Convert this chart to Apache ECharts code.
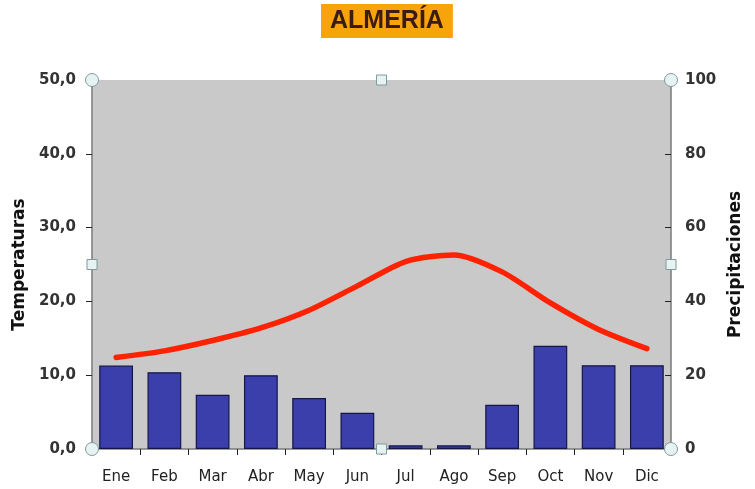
<!DOCTYPE html>
<html><head><meta charset="utf-8">
<script src="https://cdn.jsdelivr.net/npm/echarts@6/dist/echarts.min.js"></script>
<style>html,body{margin:0;padding:0;background:#fff}#c{width:755px;height:489px}</style>
</head><body><div id="c"></div>
<script>
const months = ['Ene','Feb','Mar','Abr','May','Jun','Jul','Ago','Sep','Oct','Nov','Dic'];
const precipitaciones = [22.6, 20.8, 14.7, 20.0, 13.8, 9.8, 1.0, 1.0, 12.0, 28.0, 22.7, 22.7];
const temperaturas = [12.4, 13.3, 14.7, 16.4, 18.8, 22.1, 25.4, 26.3, 24.0, 19.8, 16.2, 13.6];
const tempTicks = [0, 10, 20, 30, 40, 50];
const precTicks = [0, 20, 40, 60, 80, 100];

const G = {left: 92, right: 84, top: 80, bottom: 40};
const W = 755, H = 489;
const x0 = G.left, x1 = W - G.right, y0 = G.top, y1 = H - G.bottom;
const xm = (x0 + x1) / 2, ym = (y0 + y1) / 2;
const hs = {fill: '#e6f3f2', stroke: '#7f9c9a', lineWidth: 1};
const handles = [];
[[x0,y0],[x1,y0],[x0,y1],[x1,y1]].forEach(p => handles.push({type:'circle', shape:{cx:p[0], cy:p[1], r:6.5}, style:hs, z:100}));
[[xm,y0],[x0,ym],[x1,ym],[xm,y1]].forEach(p => handles.push({type:'rect', shape:{x:p[0]-5, y:p[1]-5, width:10, height:10}, style:hs, z:100}));

const LF = 'DejaVu Sans, sans-serif';
const chart = echarts.init(document.getElementById('c'));
chart.setOption({
  animation: false,
  backgroundColor: '#ffffff',
  textStyle: {fontFamily: LF},
  title: {
    text: 'ALMERÍA', left: 321, top: 4, padding: [5, 9, 4, 9],
    backgroundColor: '#f7a30c',
    textStyle: {color: '#3a1c14', fontSize: 25, fontWeight: 'bold', fontFamily: 'Liberation Sans, Arial, sans-serif'}
  },
  grid: {left: G.left, right: G.right, top: G.top, bottom: G.bottom, show: true, backgroundColor: '#c9c9c9', borderWidth: 0, containLabel: false, outerBoundsMode: 'none'},
  xAxis: {
    type: 'category', data: months, boundaryGap: true,
    axisLine: {lineStyle: {color: '#7a7a7a', width: 1.5}},
    axisTick: {show: true, alignWithLabel: false, length: 6, lineStyle: {color: '#222'}},
    axisLabel: {color: '#222', fontSize: 15, margin: 21, fontFamily: LF}
  },
  yAxis: [
    {
      type: 'value', min: tempTicks[0], max: tempTicks[tempTicks.length-1], interval: 10,
      name: 'Temperaturas', nameLocation: 'middle', nameRotate: 90, nameGap: 62,
      nameTextStyle: {color: '#111', fontSize: 17, fontWeight: 'bold', fontFamily: LF},
      axisLine: {show: true, lineStyle: {color: '#7a7a7a', width: 1.5}},
      axisTick: {show: true, length: 6, lineStyle: {color: '#222'}},
      splitLine: {show: false},
      axisLabel: {color: '#333', fontSize: 15, fontWeight: 'bold', margin: 16, fontFamily: LF, formatter: v => v.toFixed(1).replace('.', ',')}
    },
    {
      type: 'value', min: precTicks[0], max: precTicks[precTicks.length-1], interval: 20, position: 'right',
      name: 'Precipitaciones', nameLocation: 'middle', nameRotate: 90, nameGap: 54,
      nameTextStyle: {color: '#111', fontSize: 17, fontWeight: 'bold', fontFamily: LF},
      axisLine: {show: true, lineStyle: {color: '#7a7a7a', width: 1.5}},
      axisTick: {show: true, length: 6, inside: true, lineStyle: {color: '#222'}},
      splitLine: {show: false},
      axisLabel: {color: '#333', fontSize: 15, fontWeight: 'bold', margin: 14, fontFamily: LF}
    }
  ],
  series: [
    {
      type: 'bar', yAxisIndex: 1, data: precipitaciones, barWidth: '70%',
      itemStyle: {color: '#3b3fab', borderColor: '#15164a', borderWidth: 1.2}
    },
    {
      type: 'line', yAxisIndex: 0, data: temperaturas, smooth: 0.25, symbol: 'none',
      lineStyle: {color: '#ff2200', width: 5.5, cap: 'round'}, z: 5
    }
  ],
  graphic: handles
});
</script></body></html>
